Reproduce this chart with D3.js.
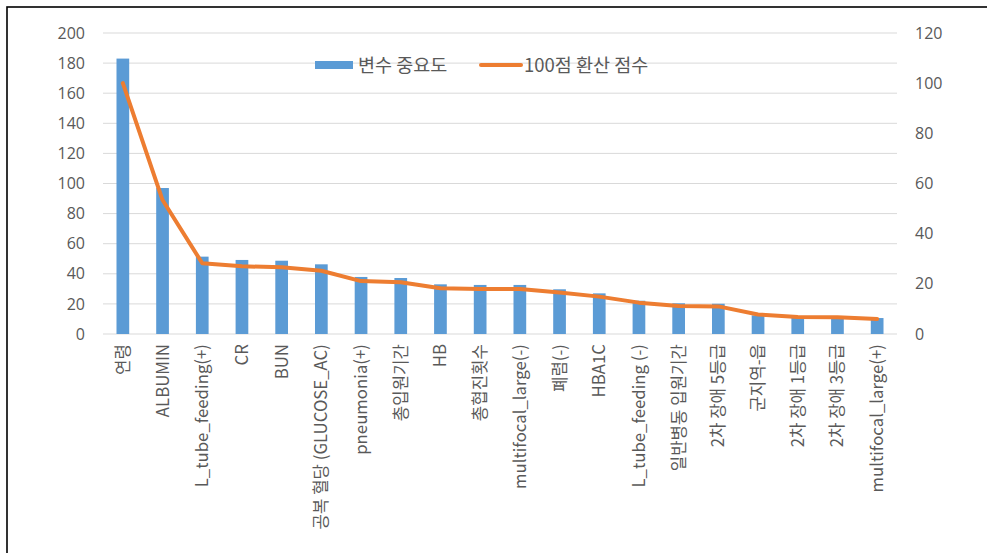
<!DOCTYPE html>
<html>
<head>
<meta charset="utf-8">
<script src="https://cdn.jsdelivr.net/npm/d3@7"></script>
<style>
body { margin: 0; background: #fff; }
svg text { font-family: "Noto Sans CJK KR", "Noto Sans", sans-serif; fill: #595959; }
</style>
</head>
<body>
<svg width="987" height="553"></svg>
<script>
// categories and values
var categories = ['연령', 'ALBUMIN', 'L_tube_feeding(+)', 'CR', 'BUN', '공복 혈당 (GLUCOSE_AC)',
    'pneumonia(+)', '총입원기간', 'HB', '총협진횟수', 'multifocal_large(-)', '폐렴(-)', 'HBA1C',
    'L_tube_feeding (-)', '일반병동 입원기간', '2차 장애 5등급', '군지역-읍', '2차 장애 1등급',
    '2차 장애 3등급', 'multifocal_large(+)'];

var importance = [183, 97, 51.4, 49.2, 48.7, 46.3, 37.9, 37.2, 33, 32.6, 32.6, 29.7, 27,
    22.1, 20.4, 20.1, 12.4, 11, 11, 10.6];

var score100 = [100, 53.4, 28.2, 27.0, 26.6, 25.2, 21.1, 20.6, 18.2, 17.9, 17.9, 16.5, 14.9,
    12.5, 11.2, 11.0, 7.8, 6.8, 6.7, 6.0];

var leftTicks = [0, 20, 40, 60, 80, 100, 120, 140, 160, 180, 200];
var rightTicks = [0, 20, 40, 60, 80, 100, 120];

var seriesNames = ['변수 중요도', '100점 환산 점수'];

var svg = d3.select('svg');

// outer frame (runs off the right and bottom edge)
svg.append('rect')
    .attr('x', 7).attr('y', 7)
    .attr('width', 1000).attr('height', 600)
    .attr('fill', 'none')
    .attr('stroke', '#000')
    .attr('stroke-width', 1.6);

var xScale = d3.scaleBand()
    .domain(categories).range([103, 897])
    .paddingInner(0.68).paddingOuter(0.34);

var yLeft = d3.scaleLinear().domain([0, 200]).range([334, 33]);
var yRight = d3.scaleLinear().domain([0, 120]).range([334, 33]);

// gridlines
svg.append('g').selectAll('line')
    .data(leftTicks)
    .enter().append('line')
    .attr('x1', 103).attr('x2', 897)
    .attr('y1', function(d){ return yLeft(d); })
    .attr('y2', function(d){ return yLeft(d); })
    .attr('stroke', '#d9d9d9')
    .attr('stroke-width', 1);

// left axis
svg.append('g').attr('class', 'y axis')
    .attr('transform', 'translate(90,0)')
    .call(d3.axisLeft(yLeft).tickValues(leftTicks).tickSize(0).tickPadding(5))
    .call(function(g){ g.select('.domain').remove(); })
    .selectAll('text')
    .style('font-size', '16px')
    .style('font-family', '"Open Sans", "Noto Sans", sans-serif')
    .attr('fill', '#595959');

// right axis
svg.append('g').attr('class', 'y axis')
    .attr('transform', 'translate(910,0)')
    .call(d3.axisRight(yRight).tickValues(rightTicks).tickSize(0).tickPadding(5))
    .call(function(g){ g.select('.domain').remove(); })
    .selectAll('text')
    .style('font-size', '16px')
    .style('font-family', '"Open Sans", "Noto Sans", sans-serif')
    .attr('fill', '#595959');

// bars
svg.append('g').selectAll('rect')
    .data(importance)
    .enter().append('rect')
    .attr('x', function(d, i){ return xScale(categories[i]); })
    .attr('width', xScale.bandwidth())
    .attr('y', function(d){ return yLeft(d); })
    .attr('height', function(d){ return yLeft(0) - yLeft(d); })
    .attr('fill', '#5b9bd5');

// line
var line = d3.line()
    .x(function(d, i){ return xScale(categories[i]) + xScale.bandwidth() / 2; })
    .y(function(d){ return yRight(d); });

svg.append('path')
    .datum(score100)
    .attr('d', line)
    .attr('fill', 'none')
    .attr('stroke', '#ed7d31')
    .attr('stroke-width', 4)
    .attr('stroke-linejoin', 'round')
    .attr('stroke-linecap', 'round');

// x labels, rotated
svg.append('g').selectAll('text')
    .data(categories)
    .enter().append('text')
    .attr('transform', function(d){
        var x = xScale(d) + xScale.bandwidth() / 2;
        return 'translate(' + (x + 6) + ',344) rotate(-90)';
    })
    .attr('text-anchor', 'end')
    .style('font-size', '16.8px')
    .text(function(d){ return d; });

// legend
var legend = svg.append('g');
legend.append('rect')
    .attr('x', 315).attr('y', 61)
    .attr('width', 38).attr('height', 8)
    .attr('fill', '#5b9bd5');
legend.append('text')
    .attr('x', 358).attr('y', 72)
    .style('font-size', '18.5px')
    .text(seriesNames[0]);
legend.append('line')
    .attr('x1', 481).attr('x2', 521)
    .attr('y1', 65).attr('y2', 65)
    .attr('stroke', '#ed7d31')
    .attr('stroke-width', 4)
    .attr('stroke-linecap', 'round');
legend.append('text')
    .attr('x', 524).attr('y', 72)
    .style('font-size', '18.5px')
    .text(seriesNames[1]);
</script>
</body>
</html>
